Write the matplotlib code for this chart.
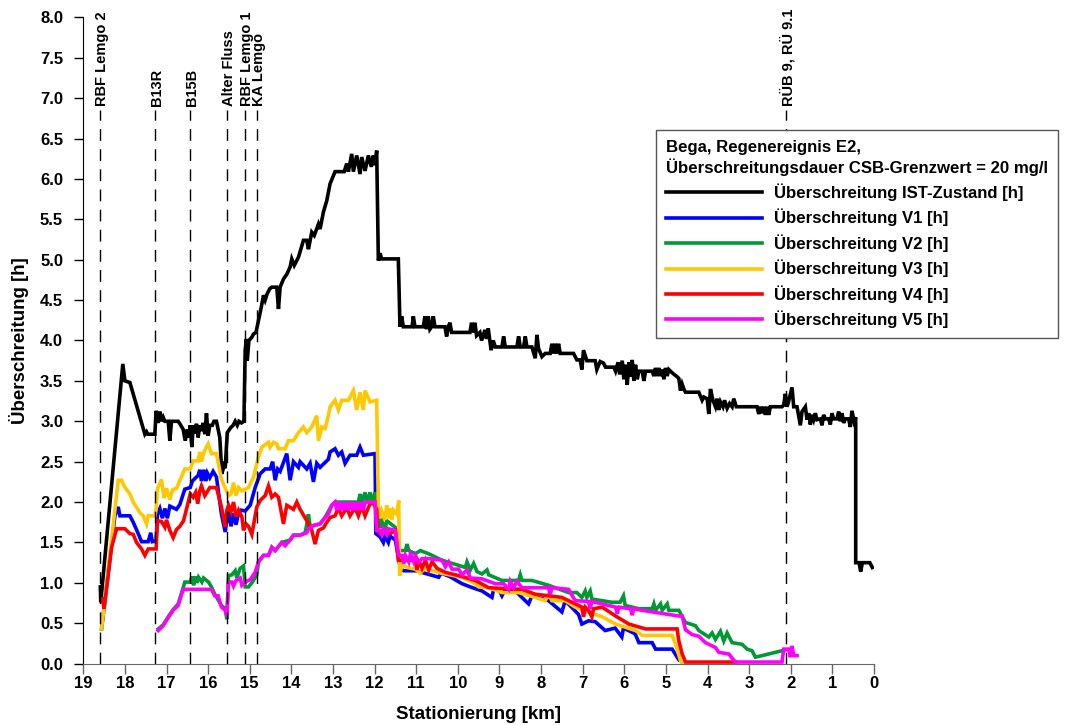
import matplotlib.pyplot as plt
from matplotlib.lines import Line2D

plt.rcParams['font.family'] = ['Liberation Sans', 'DejaVu Sans']
plt.rcParams['font.weight'] = 'bold'

# Stationen (km) und Namen der Einleitstellen
station_km = [18.59, 17.27, 16.43, 15.54, 15.12, 14.82, 2.12]
station_names = ['RBF Lemgo 2', 'B13R', 'B15B', 'Alter Fluss', 'RBF Lemgo 1', 'KA Lemgo', 'RÜB 9, RÜ 9.1']

# Überschreitung IST-Zustand (km, h)
ist = [(18.59, 0.95), (18.58, 0.76), (18.05, 3.71), (18.00, 3.50), (17.88, 3.48), (17.52, 2.84), (17.48, 2.87),
       (17.45, 2.84), (17.28, 2.84), (17.25, 3.13), (17.20, 2.98), (17.16, 3.12), (17.12, 3.00), (17.08, 3.05),
       (17.04, 3.00), (16.96, 3.00), (16.92, 2.76), (16.88, 3.00), (16.72, 3.00), (16.68, 2.97), (16.60, 2.90),
       (16.55, 2.76), (16.50, 2.90), (16.46, 2.80), (16.43, 2.95), (16.39, 2.68), (16.36, 2.95), (16.32, 2.85),
       (16.28, 2.97), (16.24, 2.80), (16.20, 2.95), (16.16, 2.88), (16.12, 2.98), (16.08, 2.84), (16.04, 3.10),
       (16.00, 2.82), (15.96, 2.95), (15.90, 2.95), (15.86, 3.00), (15.80, 3.00), (15.72, 2.80), (15.67, 2.35),
       (15.62, 2.45), (15.59, 2.42), (15.54, 2.86), (15.46, 2.92), (15.40, 2.95), (15.35, 3.00), (15.30, 2.95),
       (15.26, 3.00), (15.20, 2.98), (15.14, 3.00), (15.11, 3.88), (15.08, 4.02), (15.06, 3.75), (15.02, 4.00),
       (14.95, 4.04), (14.91, 4.08), (14.85, 4.10), (14.79, 4.25), (14.72, 4.42), (14.67, 4.56), (14.63, 4.50),
       (14.58, 4.58), (14.52, 4.64), (14.47, 4.66), (14.35, 4.66), (14.31, 4.39), (14.27, 4.66), (14.19, 4.76),
       (14.11, 4.82), (14.03, 4.91), (13.99, 5.01), (13.93, 4.93), (13.83, 5.03), (13.71, 5.24), (13.63, 5.24),
       (13.59, 5.13), (13.51, 5.34), (13.45, 5.30), (13.35, 5.44), (13.31, 5.38), (13.23, 5.59), (13.15, 5.73),
       (13.07, 5.94), (12.95, 6.09), (12.73, 6.09), (12.67, 6.19), (12.63, 6.09), (12.55, 6.31), (12.51, 6.09),
       (12.43, 6.29), (12.35, 6.06), (12.31, 6.27), (12.23, 6.10), (12.15, 6.29), (12.08, 6.15), (12.03, 6.29),
       (11.99, 6.17), (11.95, 6.35), (11.91, 4.99), (11.87, 5.08), (11.83, 5.01), (11.43, 5.01), (11.39, 4.17),
       (11.35, 4.30), (11.31, 4.17), (11.10, 4.17), (11.07, 4.30), (11.03, 4.17), (10.83, 4.17), (10.79, 4.30),
       (10.75, 4.14), (10.71, 4.30), (10.67, 4.14), (10.63, 4.17), (10.59, 4.30), (10.55, 4.17), (10.31, 4.17),
       (10.27, 4.05), (10.23, 4.17), (10.19, 4.22), (10.15, 4.10), (9.71, 4.10), (9.67, 4.22), (9.63, 4.10),
       (9.59, 4.22), (9.55, 4.06), (9.47, 4.10), (9.43, 4.00), (9.35, 4.13), (9.31, 4.02), (9.27, 4.15),
       (9.20, 3.88), (9.15, 4.00), (9.10, 3.92), (8.94, 3.92), (8.90, 4.05), (8.86, 3.92), (8.58, 3.92),
       (8.54, 4.05), (8.50, 3.92), (8.42, 3.92), (8.38, 4.05), (8.34, 3.92), (8.22, 3.92), (8.14, 3.78),
       (8.10, 4.07), (8.06, 3.90), (7.98, 3.80), (7.90, 3.84), (7.78, 3.84), (7.74, 3.96), (7.70, 3.84),
       (7.66, 3.96), (7.62, 3.84), (7.58, 3.96), (7.54, 3.84), (7.22, 3.84), (7.14, 3.76), (7.06, 3.76),
       (7.02, 3.64), (6.98, 3.88), (6.90, 3.75), (6.70, 3.75), (6.66, 3.64), (6.58, 3.74), (6.50, 3.72),
       (6.45, 3.67), (6.25, 3.67), (6.21, 3.62), (6.15, 3.73), (6.11, 3.58), (6.05, 3.75), (6.01, 3.52),
       (5.97, 3.70), (5.93, 3.45), (5.89, 3.73), (5.85, 3.55), (5.81, 3.76), (5.77, 3.50), (5.73, 3.70),
       (5.69, 3.52), (5.65, 3.62), (5.57, 3.62), (5.53, 3.50), (5.49, 3.62), (5.33, 3.62), (5.29, 3.56),
       (5.25, 3.66), (5.21, 3.56), (5.17, 3.66), (5.13, 3.56), (5.09, 3.64), (5.05, 3.52), (5.01, 3.66),
       (4.97, 3.56), (4.93, 3.64), (4.85, 3.60), (4.73, 3.55), (4.69, 3.53), (4.65, 3.38), (4.61, 3.46),
       (4.57, 3.40), (4.53, 3.36), (4.21, 3.36), (4.13, 3.26), (4.09, 3.30), (4.01, 3.28), (3.97, 3.09),
       (3.93, 3.40), (3.87, 3.26), (3.81, 3.18), (3.77, 3.28), (3.73, 3.14), (3.69, 3.24), (3.63, 3.18),
       (3.59, 3.26), (3.53, 3.16), (3.47, 3.22), (3.41, 3.18), (3.37, 3.28), (3.31, 3.18), (2.81, 3.18),
       (2.77, 3.09), (2.73, 3.18), (2.69, 3.10), (2.65, 3.18), (2.61, 3.08), (2.57, 3.18), (2.53, 3.08),
       (2.49, 3.18), (2.21, 3.18), (2.17, 3.20), (2.13, 3.34), (2.09, 3.18), (2.05, 3.25), (1.97, 3.42),
       (1.93, 3.18), (1.85, 3.18), (1.77, 2.95), (1.73, 3.12), (1.65, 3.18), (1.61, 3.02), (1.57, 3.10),
       (1.53, 2.96), (1.49, 3.08), (1.45, 3.02), (1.41, 3.10), (1.37, 3.02), (1.29, 3.03), (1.25, 2.95),
       (1.21, 3.08), (1.17, 3.03), (1.09, 3.03), (1.05, 2.96), (1.01, 3.10), (0.97, 3.03), (0.89, 3.03),
       (0.85, 3.12), (0.81, 3.00), (0.77, 3.10), (0.73, 2.98), (0.69, 3.03), (0.61, 3.03), (0.57, 2.93),
       (0.53, 3.13), (0.48, 3.00), (0.44, 3.05), (0.44, 1.25), (0.36, 1.25), (0.32, 1.14), (0.28, 1.25),
       (0.10, 1.25), (0.04, 1.19)]

# Variante V1
v1 = [(18.56, 0.43), (18.24, 1.83), (18.16, 1.94), (18.12, 1.83), (17.88, 1.83), (17.80, 1.75), (17.68, 1.61),
      (17.60, 1.51), (17.44, 1.51), (17.38, 1.62), (17.34, 1.51), (17.25, 1.52), (17.22, 1.85), (17.16, 1.92),
      (17.10, 1.80), (17.04, 1.92), (16.98, 1.80), (16.92, 1.95), (16.76, 1.91), (16.68, 1.97), (16.56, 2.16),
      (16.43, 2.18), (16.38, 2.26), (16.24, 2.33), (16.20, 2.40), (16.16, 2.26), (16.10, 2.40), (16.06, 2.26),
      (16.02, 2.36), (15.96, 2.30), (15.88, 2.38), (15.80, 2.31), (15.68, 1.85), (15.59, 1.63), (15.55, 1.78),
      (15.51, 1.90), (15.45, 1.70), (15.39, 1.86), (15.33, 1.72), (15.27, 1.86), (15.21, 1.90), (15.11, 1.89),
      (14.99, 1.96), (14.87, 2.18), (14.75, 2.35), (14.63, 2.41), (14.51, 2.41), (14.45, 2.50), (14.39, 2.27),
      (14.33, 2.41), (14.27, 2.38), (14.11, 2.60), (14.03, 2.27), (13.95, 2.50), (13.83, 2.43), (13.79, 2.50),
      (13.63, 2.41), (13.55, 2.48), (13.47, 2.25), (13.39, 2.48), (13.31, 2.43), (13.11, 2.53), (13.07, 2.62),
      (12.95, 2.66), (12.87, 2.58), (12.79, 2.62), (12.71, 2.48), (12.59, 2.58), (12.43, 2.58), (12.35, 2.68),
      (12.27, 2.58), (11.99, 2.60), (11.97, 1.61), (11.87, 1.57), (11.79, 1.50), (11.75, 1.58), (11.67, 1.50),
      (11.63, 1.58), (11.50, 1.53), (11.38, 1.17), (11.30, 1.15), (11.00, 1.15), (10.80, 1.12), (10.46, 1.07),
      (10.40, 1.12), (10.20, 1.08), (9.90, 0.99), (9.70, 0.95), (9.42, 0.90), (9.18, 0.82), (9.14, 0.92),
      (9.02, 0.92), (8.94, 0.84), (8.86, 0.92), (8.62, 0.90), (8.30, 0.74), (8.22, 0.84), (7.82, 0.78),
      (7.50, 0.64), (7.42, 0.78), (7.10, 0.61), (7.02, 0.49), (6.86, 0.53), (6.70, 0.52), (6.46, 0.41),
      (6.22, 0.44), (6.06, 0.33), (6.02, 0.44), (5.74, 0.37), (5.65, 0.26), (5.33, 0.26), (5.25, 0.18),
      (4.85, 0.18), (4.73, 0.08), (4.69, 0.05)]

# Variante V2
v2 = [(17.20, 0.43), (17.08, 0.48), (16.96, 0.58), (16.84, 0.67), (16.72, 0.74), (16.60, 0.94), (16.56, 1.01),
      (16.43, 1.01), (16.39, 1.08), (16.35, 0.97), (16.31, 1.08), (16.27, 1.00), (16.23, 1.07), (16.15, 1.01),
      (16.11, 1.06), (15.99, 1.01), (15.92, 0.95), (15.84, 0.86), (15.68, 0.72), (15.59, 0.68), (15.55, 0.55),
      (15.51, 1.09), (15.43, 1.10), (15.35, 1.15), (15.31, 1.06), (15.23, 1.18), (15.15, 1.21), (15.11, 0.95),
      (15.03, 0.95), (14.95, 1.00), (14.83, 1.10), (14.79, 1.26), (14.67, 1.34), (14.55, 1.34), (14.47, 1.44),
      (14.39, 1.40), (14.23, 1.50), (14.03, 1.53), (13.95, 1.59), (13.79, 1.59), (13.67, 1.62), (13.63, 1.72),
      (13.59, 1.85), (13.55, 1.70), (13.47, 1.71), (13.31, 1.73), (13.19, 1.81), (13.03, 1.96), (12.95, 2.00),
      (12.39, 2.00), (12.35, 2.10), (12.31, 2.00), (12.23, 2.12), (12.19, 2.00), (12.11, 2.12), (12.07, 2.00),
      (11.99, 2.12), (11.91, 1.77), (11.87, 1.68), (11.83, 1.77), (11.75, 1.66), (11.71, 1.77), (11.51, 1.69),
      (11.42, 1.40), (11.26, 1.40), (11.22, 1.48), (11.18, 1.40), (11.02, 1.36), (10.90, 1.40), (10.70, 1.36),
      (10.38, 1.28), (10.00, 1.22), (9.82, 1.19), (9.78, 1.26), (9.70, 1.16), (9.62, 1.24), (9.54, 1.14),
      (9.42, 1.11), (9.30, 1.16), (9.26, 1.10), (8.94, 1.03), (8.54, 1.03), (8.50, 1.10), (8.46, 1.03),
      (8.22, 1.03), (7.82, 0.97), (7.34, 0.88), (7.14, 0.88), (7.02, 0.82), (6.94, 0.90), (6.90, 0.82),
      (6.82, 0.90), (6.78, 0.80), (6.30, 0.76), (6.10, 0.76), (6.02, 0.84), (5.98, 0.72), (5.65, 0.68),
      (5.33, 0.68), (5.29, 0.74), (5.25, 0.66), (5.13, 0.74), (5.09, 0.66), (4.97, 0.74), (4.93, 0.66),
      (4.69, 0.66), (4.53, 0.51), (4.29, 0.47), (4.21, 0.41), (3.97, 0.33), (3.89, 0.38), (3.81, 0.30),
      (3.69, 0.40), (3.61, 0.28), (3.53, 0.38), (3.41, 0.26), (3.17, 0.24), (3.05, 0.18), (2.93, 0.16),
      (2.85, 0.08), (2.13, 0.17)]

# Variante V3
v3 = [(18.56, 0.43), (18.16, 2.27), (18.08, 2.27), (18.00, 2.18), (17.88, 2.10), (17.80, 2.00), (17.64, 1.87),
      (17.56, 1.83), (17.48, 1.73), (17.44, 1.83), (17.28, 1.83), (17.25, 1.91), (17.22, 2.16), (17.12, 2.28),
      (17.06, 2.05), (17.00, 2.17), (16.92, 2.03), (16.86, 2.15), (16.76, 2.17), (16.68, 2.27), (16.56, 2.41),
      (16.43, 2.41), (16.36, 2.51), (16.24, 2.51), (16.20, 2.62), (16.16, 2.50), (16.10, 2.62), (16.00, 2.72),
      (15.92, 2.60), (15.80, 2.60), (15.68, 2.28), (15.51, 2.08), (15.45, 2.10), (15.39, 2.24), (15.33, 2.08),
      (15.27, 2.18), (15.19, 2.14), (15.11, 2.16), (15.03, 2.18), (14.91, 2.31), (14.79, 2.56), (14.71, 2.68),
      (14.55, 2.74), (14.51, 2.68), (14.43, 2.74), (14.35, 2.72), (14.31, 2.66), (14.15, 2.66), (14.07, 2.76),
      (13.95, 2.76), (13.83, 2.86), (13.71, 2.93), (13.63, 2.86), (13.51, 2.93), (13.39, 3.07), (13.35, 2.76),
      (13.27, 2.93), (13.19, 2.91), (13.11, 3.07), (13.07, 3.18), (12.95, 3.26), (12.87, 3.14), (12.79, 3.26),
      (12.63, 3.26), (12.51, 3.38), (12.43, 3.14), (12.35, 3.36), (12.27, 3.14), (12.23, 3.38), (12.11, 3.24),
      (11.95, 3.26), (11.91, 1.94), (11.87, 1.80), (11.83, 1.89), (11.75, 1.78), (11.71, 1.96), (11.67, 1.80),
      (11.63, 1.92), (11.59, 1.78), (11.55, 1.90), (11.47, 1.85), (11.42, 2.02), (11.40, 1.09), (11.34, 1.23),
      (11.22, 1.19), (11.02, 1.17), (10.90, 1.12), (10.80, 1.18), (10.60, 1.15), (10.40, 1.12), (10.20, 1.10),
      (9.90, 1.07), (9.58, 0.99), (9.50, 0.95), (9.26, 0.94), (8.94, 0.88), (8.54, 0.88), (8.14, 0.82),
      (7.90, 0.78), (7.82, 0.86), (7.74, 0.78), (7.42, 0.78), (7.18, 0.70), (6.86, 0.64), (6.53, 0.58),
      (6.21, 0.49), (5.97, 0.45), (5.73, 0.41), (5.57, 0.35), (4.85, 0.35), (4.77, 0.24), (4.65, 0.04),
      (4.61, 0.00)]

# Variante V4
v4 = [(18.54, 0.80), (18.50, 0.68), (18.32, 1.44), (18.20, 1.67), (18.00, 1.67), (17.88, 1.61), (17.80, 1.60),
      (17.72, 1.50), (17.60, 1.42), (17.52, 1.34), (17.44, 1.42), (17.25, 1.42), (17.22, 1.77), (17.12, 1.76),
      (17.04, 1.69), (17.00, 1.78), (16.92, 1.65), (16.84, 1.56), (16.76, 1.66), (16.68, 1.70), (16.59, 1.77),
      (16.43, 2.10), (16.36, 2.06), (16.30, 2.12), (16.25, 1.98), (16.20, 2.14), (16.16, 2.20), (16.08, 2.08),
      (15.96, 2.18), (15.80, 2.18), (15.68, 1.94), (15.59, 1.69), (15.55, 1.90), (15.51, 1.96), (15.45, 1.88),
      (15.39, 2.00), (15.33, 1.82), (15.27, 1.90), (15.19, 1.82), (15.15, 1.65), (15.09, 1.73), (15.03, 1.70),
      (14.95, 1.60), (14.83, 1.94), (14.75, 2.02), (14.63, 2.08), (14.55, 2.20), (14.47, 2.06), (14.39, 2.10),
      (14.31, 2.06), (14.19, 1.73), (14.11, 1.96), (13.95, 1.91), (13.87, 2.00), (13.79, 1.91), (13.63, 1.77),
      (13.51, 1.65), (13.43, 1.48), (13.35, 1.65), (13.23, 1.68), (13.15, 1.75), (13.07, 1.81), (12.95, 1.83),
      (12.87, 1.93), (12.79, 1.83), (12.67, 1.93), (12.59, 1.83), (12.47, 1.93), (12.39, 1.83), (12.31, 1.95),
      (12.23, 1.83), (12.11, 1.98), (12.03, 1.98), (11.95, 1.91), (11.92, 1.63), (11.87, 1.61), (11.75, 1.63),
      (11.63, 1.61), (11.50, 1.65), (11.43, 1.28), (11.02, 1.28), (10.98, 1.16), (10.94, 1.28), (10.86, 1.18),
      (10.78, 1.28), (10.70, 1.16), (10.62, 1.26), (10.50, 1.18), (10.30, 1.13), (9.98, 1.09), (9.58, 1.03),
      (9.26, 0.94), (8.46, 0.92), (8.14, 0.86), (7.50, 0.82), (7.18, 0.74), (7.02, 0.70), (6.98, 0.58),
      (6.94, 0.70), (6.86, 0.66), (6.78, 0.58), (6.74, 0.68), (6.53, 0.70), (6.21, 0.59), (5.89, 0.49),
      (5.49, 0.43), (4.73, 0.43), (4.69, 0.28), (4.61, 0.12), (4.53, 0.02), (3.33, 0.02)]

# Variante V5
v5 = [(17.20, 0.41), (17.08, 0.47), (16.96, 0.57), (16.84, 0.66), (16.72, 0.72), (16.60, 0.92), (16.43, 0.92),
      (15.92, 0.92), (15.84, 0.84), (15.76, 0.84), (15.68, 0.70), (15.59, 0.66), (15.55, 0.59), (15.51, 1.01),
      (15.43, 1.01), (15.39, 0.96), (15.33, 1.03), (15.23, 1.06), (15.19, 0.97), (15.11, 1.01), (14.99, 1.04),
      (14.87, 1.13), (14.79, 1.26), (14.67, 1.34), (14.55, 1.34), (14.47, 1.44), (14.39, 1.40), (14.23, 1.50),
      (14.15, 1.46), (14.03, 1.53), (13.95, 1.59), (13.79, 1.59), (13.63, 1.62), (13.59, 1.67), (13.47, 1.71),
      (13.31, 1.73), (13.19, 1.81), (13.11, 1.85), (13.03, 1.96), (12.95, 2.00), (12.91, 1.90), (12.87, 2.00),
      (12.83, 1.90), (12.79, 2.00), (12.75, 1.90), (12.71, 2.00), (12.67, 1.90), (12.63, 2.00), (12.59, 1.90),
      (12.55, 2.00), (12.51, 1.90), (12.47, 2.00), (12.43, 1.90), (12.39, 2.00), (12.35, 1.90), (12.31, 2.00),
      (12.27, 1.90), (12.23, 2.00), (11.99, 2.00), (11.95, 1.65), (11.87, 1.65), (11.83, 1.60), (11.79, 1.67),
      (11.71, 1.60), (11.67, 1.67), (11.51, 1.65), (11.42, 1.34), (11.34, 1.34), (11.30, 1.24), (11.26, 1.34),
      (11.18, 1.26), (11.14, 1.36), (11.06, 1.26), (11.02, 1.34), (10.94, 1.26), (10.86, 1.30), (10.70, 1.30),
      (10.38, 1.28), (10.30, 1.20), (10.22, 1.26), (10.14, 1.17), (9.98, 1.17), (9.90, 1.10), (9.78, 1.16),
      (9.70, 1.06), (9.42, 1.05), (9.10, 0.99), (8.90, 0.99), (8.78, 0.92), (8.74, 1.02), (8.66, 0.94),
      (8.58, 1.02), (8.46, 0.94), (7.82, 0.94), (7.78, 0.86), (7.74, 0.94), (7.34, 0.92), (7.18, 0.78),
      (6.86, 0.77), (6.82, 0.68), (6.78, 0.77), (6.21, 0.70), (6.17, 0.62), (6.13, 0.70), (5.85, 0.68),
      (5.81, 0.60), (5.77, 0.68), (5.57, 0.66), (4.69, 0.59), (4.61, 0.59), (4.53, 0.42), (4.37, 0.36),
      (4.21, 0.34), (4.05, 0.26), (3.81, 0.20), (3.73, 0.14), (3.49, 0.12), (3.33, 0.02), (2.21, 0.02),
      (2.17, 0.18), (2.05, 0.18), (2.01, 0.08), (1.97, 0.22), (1.93, 0.10), (1.85, 0.10)]

series_labels = ['Überschreitung IST-Zustand [h]', 'Überschreitung V1 [h]', 'Überschreitung V2 [h]',
                 'Überschreitung V3 [h]', 'Überschreitung V4 [h]', 'Überschreitung V5 [h]']
colors = ['black', '#0000ff', '#009933', '#ffc800', '#ff0000', '#ff00ff']
series = [ist, v1, v2, v3, v4, v5]

fig = plt.figure(figsize=(10.69, 7.25), dpi=100)
ax = fig.add_axes([0.0779, 0.0846, 0.7397, 0.8915])

# Zeichenreihenfolge: IST, V1, V2, V3, V4, V5
for data, col in zip(series, colors):
    xs = [p[0] for p in data]
    ys = [p[1] for p in data]
    ax.plot(xs, ys, color=col, lw=2.6, solid_joinstyle='miter')

# gestrichelte Linien der Einleitstellen
for km, name in zip(station_km, station_names):
    ax.plot([km, km], [0, 6.85], color='black', lw=1, linestyle=(0, (8.5, 6)))
    ax.text(km - 0.05, 6.9, name, rotation=90, ha='center', va='bottom',
            fontsize=10.5, fontweight='bold')

ax.set_xlim(19, 0)
ax.set_ylim(0, 8)
ax.set_xticks(range(19, -1, -1))
ax.set_yticks([i * 0.5 for i in range(17)])
ax.set_yticklabels([f'{i * 0.5:.1f}' for i in range(17)])

ax.spines['top'].set_visible(False)
ax.spines['right'].set_visible(False)
ax.spines['bottom'].set_color('#666666')
ax.tick_params(axis='y', direction='out', length=6.5, width=1, pad=8, labelsize=12)
ax.tick_params(axis='x', direction='out', length=7, width=1, color='#666666', pad=2, labelsize=12)
for lab in ax.get_xticklabels() + ax.get_yticklabels():
    lab.set_fontweight('bold')

ax.set_xlabel('Stationierung [km]', fontsize=13.5, fontweight='bold', labelpad=11)
ax.set_ylabel('Überschreitung [h]', fontsize=13.5, fontweight='bold', labelpad=8)

handles = [Line2D([0], [0], color=c, lw=2.6) for c in colors]
leg = fig.legend(handles, series_labels, loc='upper left', bbox_to_anchor=(0.6137, 0.8207),
                 title='Bega, Regenereignis E2,\nÜberschreitungsdauer CSB-Grenzwert = 20 mg/l',
                 title_fontproperties={'weight': 'bold', 'size': 12.1},
                 prop={'weight': 'bold', 'size': 12.1}, alignment='left',
                 handlelength=5.7, handletextpad=0.7, labelspacing=0.47,
                 fancybox=False, framealpha=1, borderpad=0.6, borderaxespad=0)
leg.get_frame().set_edgecolor('#555555')
leg.get_frame().set_linewidth(1)

fig.savefig('out.png', dpi=100)
